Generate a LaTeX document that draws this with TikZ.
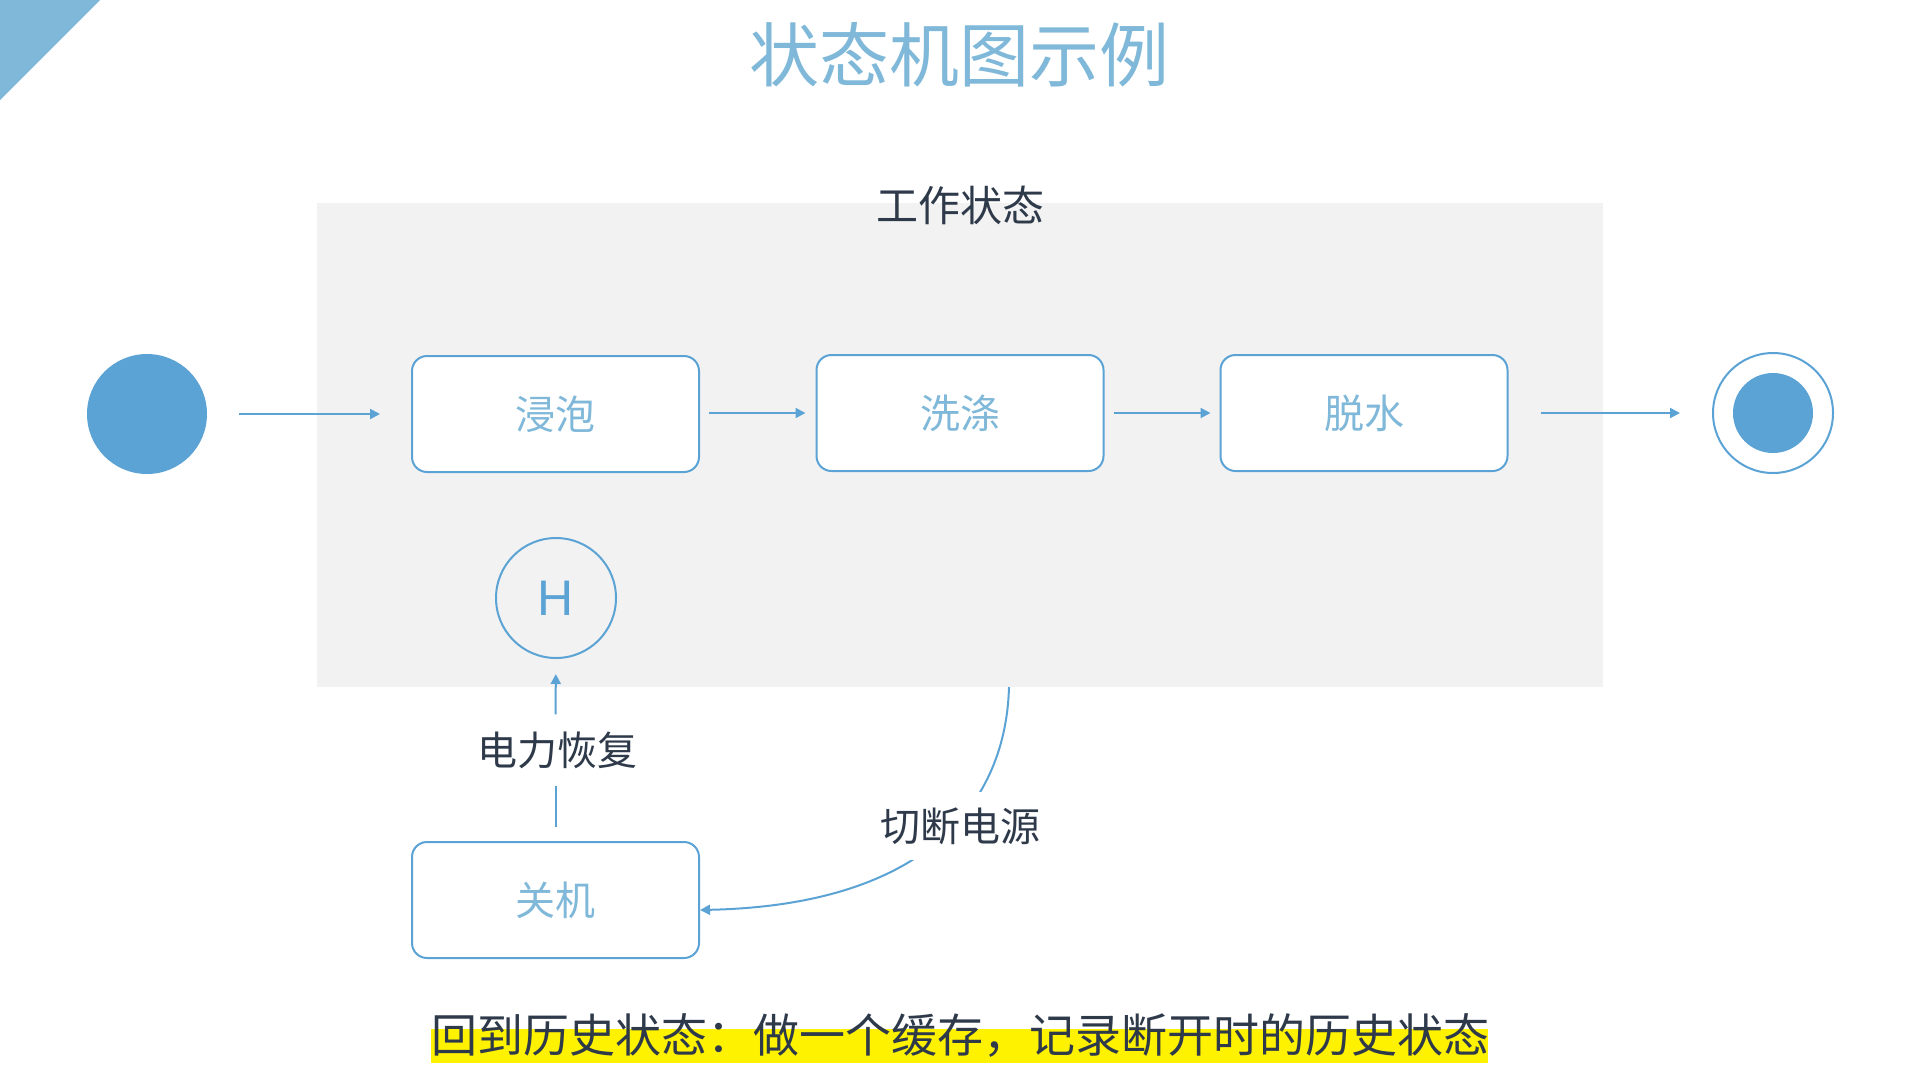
\documentclass[tikz,border=0pt]{standalone}
\usepackage{fontspec}
\setmainfont{Noto Sans CJK SC}
\newfontfamily\hfont{Liberation Sans}
\usetikzlibrary{arrows.meta}
\definecolor{blueA}{HTML}{5BA3D5}
\definecolor{blueL}{HTML}{7FB8D8}
\definecolor{darkT}{HTML}{2E3A4A}
\definecolor{grayBG}{HTML}{F2F2F2}
\definecolor{hilite}{HTML}{FFF200}
\tikzset{
  statebox/.style={draw=blueA, line width=2pt, fill=white, rounded corners=15pt,
    minimum width=287pt, minimum height=116pt, inner sep=0pt,
    text=blueL, font=\fontsize{40}{48}\selectfont},
  conn/.style={draw=blueA, line width=2pt, -{Triangle[length=10pt,width=10pt]}},
  plainconn/.style={draw=blueA, line width=2pt},
  lbl/.style={text=darkT, font=\fontsize{40}{48}\selectfont, inner sep=0pt}
}
\begin{document}
\begin{tikzpicture}[x=1pt,y=-1pt]
\useasboundingbox (0,0) rectangle (1920,1080);
\fill[white] (0,0) rectangle (1920,1080);
% corner triangle
\fill[blueL] (0,0) -- (100,0) -- (0,100) -- cycle;
% title
\node[text=blueL, font=\fontsize{70}{80}\selectfont] (title) at (959,55) {状态机图示例};
% container
\node[fill=grayBG, minimum width=1286pt, minimum height=484pt, inner sep=0pt] (work) at (960,445) {};
\node[lbl, font=\fontsize{42}{50}\selectfont] (worklbl) at (960,205) {工作状态};
% start / end
\node[circle, fill=blueA, minimum size=120pt, inner sep=0pt] (start) at (147,414) {};
\node[circle, draw=blueA, line width=2pt, fill=white, minimum size=120pt, inner sep=0pt] (final) at (1773,413) {};
\node[circle, fill=blueA, minimum size=80pt, inner sep=0pt] (finalin) at (final) {};
% states
\node[statebox] (soak) at (555.5,414) {浸泡};
\node[statebox] (wash) at (960,413) {洗涤};
\node[statebox] (spin) at (1364,413) {脱水};
\node[statebox] (off) at (555.5,900) {关机};
\node[circle, draw=blueA, line width=2pt, minimum size=120pt, inner sep=0pt,
      text=blueA, font=\hfont\fontsize{50}{60}\selectfont] (hist) at (556,598) {H};
% transitions
\draw[conn, shorten <=32pt, shorten >=31pt] (start) -- (soak);
\draw[conn, shorten <=9pt, shorten >=10pt] (soak.east |- wash.east) -- (wash.west);
\draw[conn, shorten <=9pt, shorten >=9pt] (wash) -- (spin);
\draw[conn, shorten <=32pt, shorten >=32pt] (spin) -- (final);
% power restore
\node[lbl, fill=white, minimum height=71pt] (restore) at (557,750) {电力恢复};
\draw[plainconn, shorten <=14pt] (off.north) -- (off.north |- restore.south);
\draw[conn, shorten >=15pt] (off.north |- restore.north) -- (hist.south);
% power cut
\coordinate (cut) at (1009,687);
\coordinate (offin) at ([yshift=-10pt]off.east);
\draw[conn] (cut) .. controls (1006,800) and (930,905) .. (offin);
\node[lbl, fill=white, minimum height=68pt, inner xsep=4pt] (cutlbl) at (960,826) {切断电源};
% bottom note
\fill[hilite] (431,1029) rectangle (1488,1063);
\node[lbl, font=\fontsize{46}{54}\selectfont] (note) at (960,1036) {回到历史状态：做一个缓存，记录断开时的历史状态};
\end{tikzpicture}
\end{document}
